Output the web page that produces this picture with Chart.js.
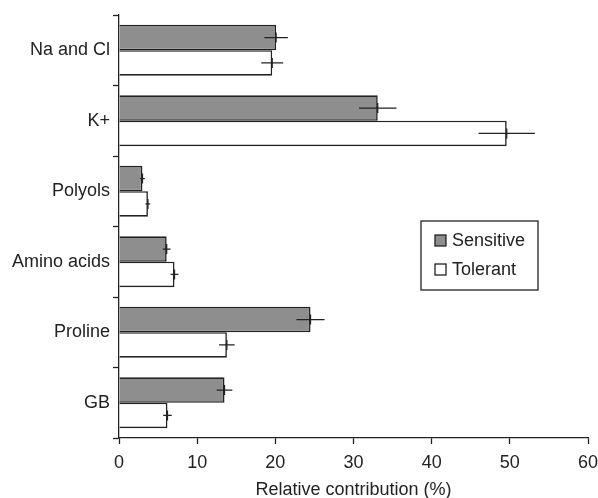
<!DOCTYPE html>
<html>
<head>
<meta charset="utf-8">
<script src="https://cdn.jsdelivr.net/npm/chart.js@4.4.0/dist/chart.umd.min.js"></script>
<style>
  html, body { margin: 0; padding: 0; background: #fff; }
  #wrap { width: 598px; height: 498px; }
</style>
</head>
<body>
<div id="wrap"><canvas id="c" width="598" height="498"></canvas></div>
<script>
const categories = ['Na and Cl', 'K+', 'Polyols', 'Amino acids', 'Proline', 'GB'];
const sensitive = [20.1, 33.1, 3.0, 6.1, 24.5, 13.5];
const sensitiveErr = [1.5, 2.4, 0.3, 0.5, 1.8, 1.0];
const tolerant = [19.6, 49.6, 3.7, 7.1, 13.8, 6.2];
const tolerantErr = [1.4, 3.6, 0.3, 0.5, 1.0, 0.55];
const xTicks = [0, 10, 20, 30, 40, 50, 60];

const ink = '#222';
const font = { family: '"Liberation Sans", Arial, sans-serif', size: 18 };

const errorBars = {
    id: 'errorBars',
    afterDatasetsDraw(chart) {
        const ctx = chart.ctx;
        const x = chart.scales.x;
        ctx.save();
        ctx.strokeStyle = ink;
        ctx.lineWidth = 1.3;
        chart.data.datasets.forEach((ds, i) => {
            const meta = chart.getDatasetMeta(i);
            meta.data.forEach((bar, j) => {
                const v = ds.data[j], e = ds.errors[j];
                ctx.beginPath();
                ctx.moveTo(x.getPixelForValue(v - e), bar.y);
                ctx.lineTo(x.getPixelForValue(v + e), bar.y);
                ctx.moveTo(bar.x, bar.y - 5);
                ctx.lineTo(bar.x, bar.y + 5);
                ctx.stroke();
            });
        });
        ctx.restore();
    }
};

const boxLegend = {
    id: 'boxLegend',
    afterDraw(chart) {
        const ctx = chart.ctx;
        ctx.save();
        ctx.strokeStyle = ink;
        ctx.lineWidth = 1.3;
        ctx.strokeRect(421, 221, 117, 69);
        ctx.font = '18px "Liberation Sans", Arial, sans-serif';
        ctx.textBaseline = 'middle';
        chart.data.datasets.forEach((ds, i) => {
            const y = 241 + i * 29;
            ctx.fillStyle = ds.backgroundColor;
            ctx.fillRect(435, y - 6, 11, 11);
            ctx.strokeRect(435, y - 6, 11, 11);
            ctx.fillStyle = ink;
            ctx.fillText(ds.label, 452, y);
        });
        ctx.restore();
    }
};

new Chart(document.getElementById('c'), {
    type: 'bar',
    data: {
        labels: categories,
        datasets: [
            { label: 'Sensitive', data: sensitive, errors: sensitiveErr,
              backgroundColor: '#8e8e8e', borderColor: ink, borderWidth: 1.6 },
            { label: 'Tolerant', data: tolerant, errors: tolerantErr,
              backgroundColor: '#ffffff', borderColor: ink, borderWidth: 1.6 }
        ]
    },
    options: {
        indexAxis: 'y',
        responsive: false,
        animation: false,
        events: [],
        layout: { padding: { left: 0, right: 0, top: 15, bottom: 0 } },
        datasets: { bar: { categoryPercentage: 0.72, barPercentage: 1.0 } },
        plugins: { legend: { display: false }, tooltip: { enabled: false } },
        scales: {
            x: {
                min: 0, max: 60,
                afterBuildTicks: s => { s.ticks = xTicks.map(v => ({ value: v })); },
                grid: { drawOnChartArea: false, tickLength: 6, color: ink, tickWidth: 1.3 },
                border: { color: ink, width: 1.3 },
                ticks: { color: ink, font: font, padding: 8, maxRotation: 0 },
                title: { display: true, text: 'Relative contribution (%)', color: ink, font: font, padding: { top: 6, bottom: -3 } },
                afterFit: s => { s.height = 60; s.paddingLeft = 0; s.paddingRight = 10; }
            },
            y: {
                grid: { drawOnChartArea: false, tickLength: 6, color: ink, tickWidth: 1.3, offset: true },
                border: { color: ink, width: 1.3 },
                ticks: { color: ink, font: font, padding: 3 },
                afterFit: s => { s.width = 119; }
            }
        }
    },
    plugins: [errorBars, boxLegend]
});
</script>
</body>
</html>
